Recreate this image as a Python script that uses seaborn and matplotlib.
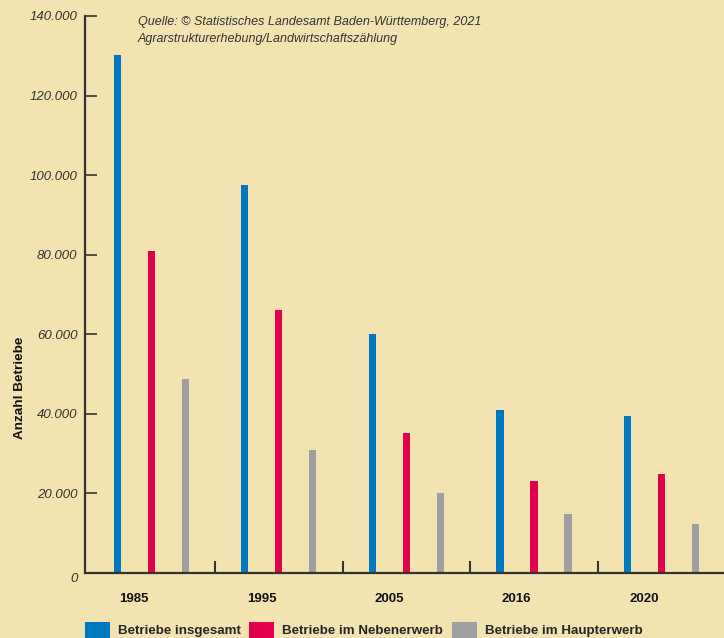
import matplotlib
matplotlib.use("Agg")
import matplotlib.pyplot as plt
import seaborn as sns
import pandas as pd

# ---- data ----
years = ["1985", "1995", "2005", "2016", "2020"]
series_names = ["Betriebe insgesamt", "Betriebe im Nebenerwerb", "Betriebe im Haupterwerb"]
insgesamt = [130200, 97500, 60100, 41000, 39500]
nebenerwerb = [80900, 66100, 35200, 23100, 24900]
haupterwerb = [48800, 30900, 20100, 14800, 12300]
y_ticks = [0, 20000, 40000, 60000, 80000, 100000, 120000, 140000]
y_label = "Anzahl Betriebe"
source_lines = ["Quelle: © Statistisches Landesamt Baden-Württemberg, 2021",
                "Agrarstrukturerhebung/Landwirtschaftszählung"]

BG = "#F3E3B0"
colors = ["#0078BF", "#E3004A", "#A09F9F"]
DARK = "#333333"

df = pd.DataFrame({
    "Jahr": years * 3,
    "Art": [series_names[0]] * 5 + [series_names[1]] * 5 + [series_names[2]] * 5,
    "Anzahl": insgesamt + nebenerwerb + haupterwerb,
})

sns.set_style("ticks")
plt.rcParams["font.family"] = ["Liberation Sans", "DejaVu Sans"]

W, H = 724, 638
fig = plt.figure(figsize=(W / 100, H / 100), dpi=100, facecolor=BG)
ax = fig.add_axes([85 / W, (H - 573) / H, (W - 85) / W, (573 - 16) / H])
ax.set_facecolor(BG)

sns.barplot(data=df, x="Jahr", y="Anzahl", hue="Art", hue_order=series_names,
            palette=colors, width=0.8, gap=0.79, linewidth=0, saturation=1,
            ax=ax, legend=True)

ax.set_xlim(-0.52, 4.49)
ax.set_ylim(0, 140000)

# spines
for s in ["top", "right"]:
    ax.spines[s].set_visible(False)
for s in ["left", "bottom"]:
    ax.spines[s].set_color(DARK)
    ax.spines[s].set_linewidth(1.6)

# y ticks
ax.set_yticks(y_ticks)
ax.set_yticklabels([f"{v:,}".replace(",", ".") for v in y_ticks],
                   fontstyle="italic", fontsize=9.5, color=DARK)
ax.tick_params(axis="y", direction="in", length=8.6, width=1.2, color=DARK, pad=5.5)
ax.get_yticklabels()[0].set_va("top")

# x ticks: labels offset, separator minor ticks
ax.set_xticks([i - 0.135 for i in range(len(years))])
ax.set_xticklabels(years, fontweight="bold", fontsize=9.5, color="#111111")
ax.tick_params(axis="x", which="major", length=0, pad=14.5)
ax.set_xticks([i + 0.5 for i in range(len(years) - 1)], minor=True)
ax.tick_params(axis="x", which="minor", direction="in", length=8.6, width=1.5, color=DARK)

ax.set_xlabel("")
ax.set_ylabel("")

fig.text(20 / W, 1 - 388 / H, y_label, rotation=90, ha="center", va="center",
         fontweight="bold", fontsize=9.7, color="#111111")

fig.text(138 / W, 1 - 22 / H, source_lines[0], ha="left", va="center",
         fontstyle="italic", fontsize=9, color=DARK)
fig.text(138 / W, 1 - 39 / H, source_lines[1], ha="left", va="center",
         fontstyle="italic", fontsize=9, color=DARK)

handles, labels = ax.get_legend_handles_labels()
if ax.get_legend() is not None:
    ax.get_legend().remove()
lfs = 9.6
fs = lfs * 100 / 72
fig.legend(handles, labels, loc="center left", bbox_to_anchor=(85 / W, 8 / H),
           ncol=3, frameon=False, handlelength=25 / fs, handleheight=20 / fs,
           handletextpad=8 / fs, columnspacing=8.5 / fs, borderpad=0, borderaxespad=0,
           prop={"weight": "bold", "size": lfs})

fig.savefig("out.png", dpi=100, facecolor=BG)
